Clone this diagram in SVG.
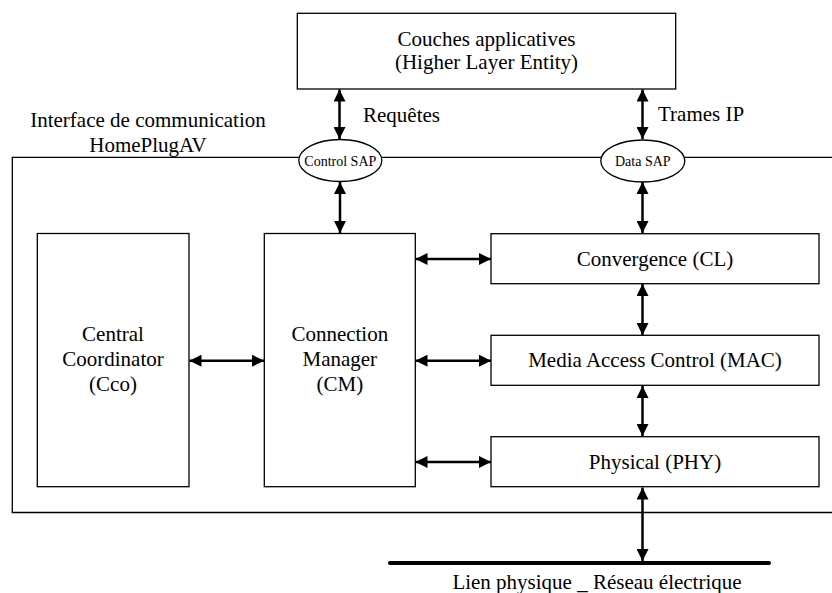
<svg xmlns="http://www.w3.org/2000/svg" width="832" height="593" viewBox="0 0 832 593">
<style>
.box{fill:#fff;stroke:#000;stroke-width:1.3}
.t{font-family:"Liberation Serif","Times New Roman",serif;font-size:21px;fill:#000}
.m{text-anchor:middle}
.s{font-family:"Liberation Serif","Times New Roman",serif;font-size:14px;fill:#000;text-anchor:middle}
.a{stroke:#000;stroke-width:2.5;fill:none;marker-start:url(#ah);marker-end:url(#ah)}
</style>
<defs>
<marker id="ah" markerUnits="userSpaceOnUse" viewBox="0 0 12 12" refX="12" refY="6" markerWidth="12" markerHeight="12" orient="auto-start-reverse">
<path d="M0,0 L12,6 L0,12 Z" fill="#000"/>
</marker>
</defs>
<rect width="832" height="593" fill="#fff"/>
<g id="frame">
<path d="M832,157.3 H12.3 V512.5 H832" fill="none" stroke="#000" stroke-width="1.3"/>
<text class="t m" x="148" y="127">Interface de communication</text>
<text class="t m" x="148" y="152">HomePlugAV</text>
</g>
<g id="connectors">
<line class="a" x1="339.5" y1="89.5" x2="339.5" y2="139"/>
<line class="a" x1="642.5" y1="89.5" x2="642.5" y2="139"/>
<line class="a" x1="340" y1="182" x2="340" y2="233"/>
<line class="a" x1="642.5" y1="182" x2="642.5" y2="233"/>
<line class="a" x1="642.5" y1="284" x2="642.5" y2="335"/>
<line class="a" x1="642.5" y1="386" x2="642.5" y2="436"/>
<line class="a" x1="642.5" y1="487.5" x2="642.5" y2="561"/>
<line class="a" x1="189.5" y1="360.7" x2="264" y2="360.7"/>
<line class="a" x1="415.5" y1="259" x2="491" y2="259"/>
<line class="a" x1="415.5" y1="360.7" x2="491" y2="360.7"/>
<line class="a" x1="415.5" y1="462" x2="491" y2="462"/>
<text class="t" x="363" y="122">Requêtes</text>
<text class="t" x="658" y="121">Trames IP</text>
</g>
<g id="hle">
<rect class="box" x="297.3" y="13.3" width="378.4" height="75.7"/>
<text class="t m" x="486.5" y="46">Couches applicatives</text>
<text class="t m" x="486.5" y="69">(Higher Layer Entity)</text>
</g>
<g id="control-sap">
<ellipse class="box" cx="340.3" cy="160.5" rx="41.5" ry="21"/>
<text class="s" x="340.3" y="166">Control SAP</text>
</g>
<g id="data-sap">
<ellipse class="box" cx="642.8" cy="161" rx="42" ry="21"/>
<text class="s" x="642.8" y="166">Data SAP</text>
</g>
<g id="cco">
<rect class="box" x="37.3" y="233.5" width="151.7" height="253.2"/>
<text class="t m" x="113" y="341">Central</text>
<text class="t m" x="113" y="366">Coordinator</text>
<text class="t m" x="113" y="391">(Cco)</text>
</g>
<g id="cm">
<rect class="box" x="264.3" y="233.5" width="151" height="253.2"/>
<text class="t m" x="339.8" y="341">Connection</text>
<text class="t m" x="339.8" y="366">Manager</text>
<text class="t m" x="339.8" y="391">(CM)</text>
</g>
<g id="cl">
<rect class="box" x="491" y="233.7" width="328" height="50"/>
<text class="t m" x="655" y="265.5">Convergence (CL)</text>
</g>
<g id="mac">
<rect class="box" x="491" y="335.3" width="328" height="50"/>
<text class="t m" x="655" y="367">Media Access Control (MAC)</text>
</g>
<g id="phy">
<rect class="box" x="491" y="436.7" width="328" height="50"/>
<text class="t m" x="655" y="468.5">Physical (PHY)</text>
</g>
<g id="power-line">
<line x1="390" y1="563" x2="769" y2="563" stroke="#000" stroke-width="4" stroke-linecap="round"/>
<text class="t m" x="597" y="589">Lien physique _ Réseau électrique</text>
</g>
</svg>
